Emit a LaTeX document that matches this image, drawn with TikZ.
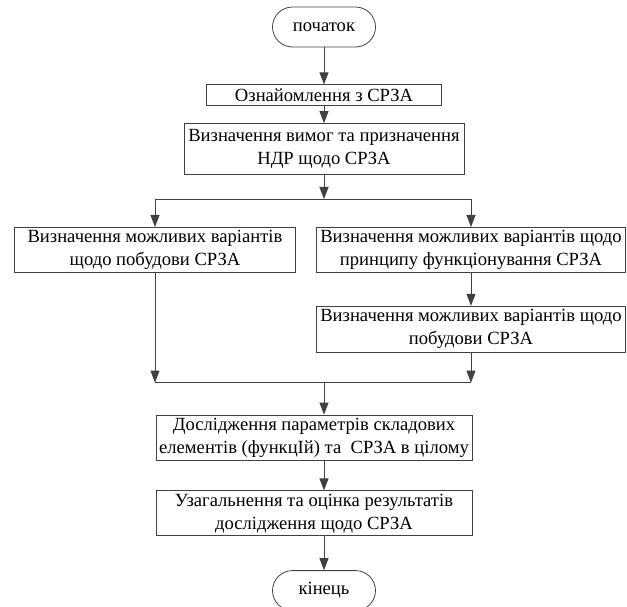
\documentclass[tikz,border=0pt]{standalone}
\usepackage{fontspec}
\setmainfont{Liberation Serif}
\usetikzlibrary{arrows.meta,positioning}
\tikzset{%
stepbox/.style={rectangle, draw=black!75, line width=0.8pt, align=center, inner sep=0.5pt, font=\fontsize{18.6}{23}\selectfont},
termnode/.style={stepbox, rounded corners=20pt, minimum width=103pt, minimum height=40pt},
pt/.style={draw=black!75, line width=0.8pt, ->},
ln/.style={draw=black!75, line width=0.8pt}
}
\begin{document}
\begin{tikzpicture}[x=1pt,y=1pt,>={Triangle[length=12pt,width=9pt]}]
		\useasboundingbox (0,0) rectangle (627,-607);
		\node[termnode] (start) at (324,-27) {початок};
		\node[stepbox, minimum width=235pt, minimum height=21pt] (intro) [below=37pt of start] {Ознайомлення з СРЗА};
		\node[stepbox, minimum width=280pt, minimum height=51pt] (req) [below=17pt of intro] {Визначення вимог та призначення\\НДР щодо СРЗА};
		\coordinate[below=24pt of req] (split);
		\node[stepbox, minimum width=281pt, minimum height=45pt] (optl) [below=28pt of split, xshift=-169pt] {Визначення можливих варіантів\\щодо побудови СРЗА};
		\node[stepbox, minimum width=309pt, minimum height=45pt] (optr) [below=28pt of split, xshift=147pt] {Визначення можливих варіантів щодо\\принципу функціонування СРЗА};
		\node[stepbox, minimum width=309pt, minimum height=46pt] (build) [below=33pt of optr] {Визначення можливих варіантів щодо\\побудови СРЗА};
		\coordinate[below=30pt of build] (merge);
		\node[stepbox, minimum width=316pt, minimum height=45pt] (study) [below=32pt of merge, xshift=-157pt] {Дослідження параметрів складових\\елементів (функцІй) та \ СРЗА в цілому};
		\node[stepbox, minimum width=316pt, minimum height=45pt] (sum) [below=30pt of study] {Узагальнення та оцінка результатів\\дослідження щодо СРЗА};
		\node[termnode] (finish) [below=34pt of sum, xshift=10pt] {кінець};
		
		\path[pt] (start) -- (intro);
		\path[pt] (intro) -- (start |- req.north);
		\path[pt] (start |- req.south) -- (split);
		\path[ln] (optl |- split) -- (optr |- split);
		\path[pt] (optl |- split) -- (optl);
		\path[pt] (optr |- split) -- (optr);
		\path[pt] (optr) -- (build);
		\path[pt] (optl) -- (optl |- merge);
		\path[pt] (build) -- (merge);
		\path[ln] (optl |- merge) -- (merge);
		\path[pt] (start |- merge) -- (start |- study.north);
		\path[pt] (start |- study.south) -- (start |- sum.north);
		\path[pt] (start |- sum.south) -- (finish);
\end{tikzpicture}
\end{document}
